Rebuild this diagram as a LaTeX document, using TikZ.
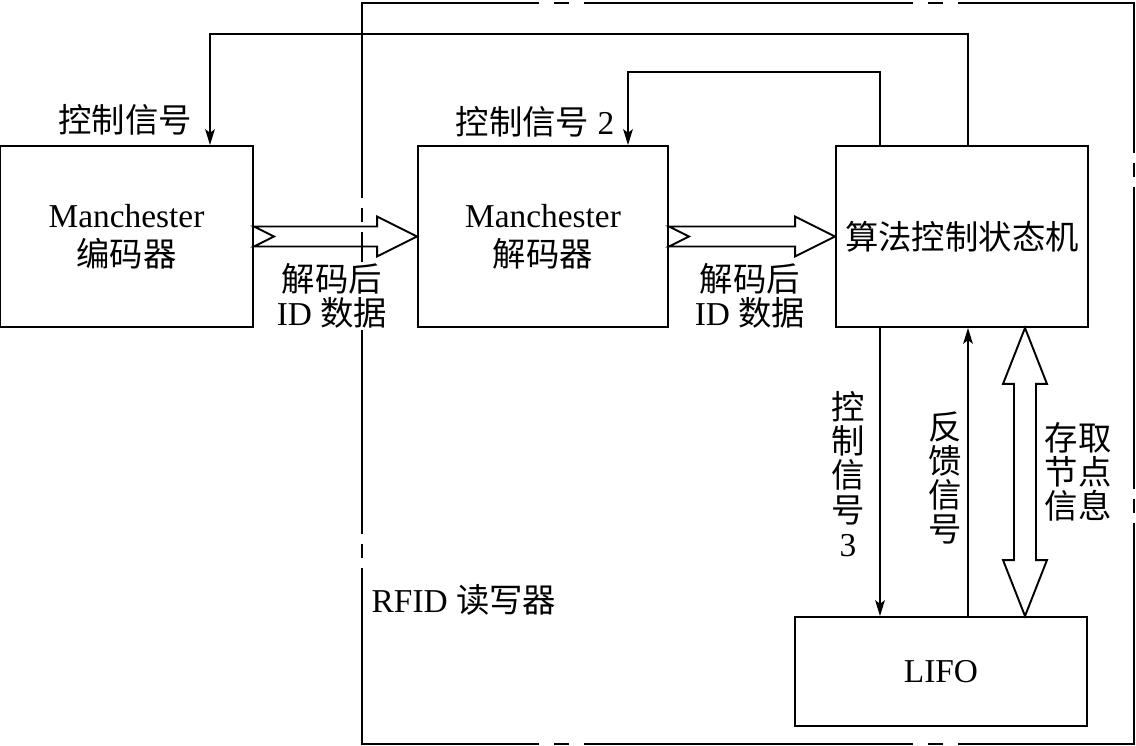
\documentclass[tikz,border=0pt]{standalone}
\usepackage{fontspec}
\setmainfont{Liberation Serif}
\newfontfamily\cjk{Noto Sans CJK SC}
\usetikzlibrary{positioning, arrows.meta, calc}

\begin{document}
\begin{tikzpicture}[
    x=0.02cm, y=-0.02cm,
    font=\fontsize{19}{22}\selectfont,
    block/.style={rectangle, draw, line width=1.1pt, align=center},
    sig/.style={-{Stealth[length=9pt, width=5.5pt, inset=2pt]}, line width=0.9pt},
    fat/.style={draw, line width=1.1pt, fill=white, line join=miter},
    frame/.style={line width=1.3pt, line cap=rect, dash pattern=on 6.54cm off 0.34cm on 0.26cm off 0.34cm},
    vframe/.style={line width=1.3pt, line cap=rect, dash pattern=on 6cm off 0.24cm on 0.24cm off 0.24cm},
    txt/.style={align=center, fill=white, inner sep=1pt, font=\fontsize{19}{19.5}\selectfont},
    vlabel/.style={align=center, font=\cjk\fontsize{19}{19.5}\selectfont}
]
    \useasboundingbox (0,0) rectangle (1136,746);

    % Blocks
    \node[block, minimum width=5.06cm, minimum height=3.62cm] (enc) at (126.5,236.5) {Manchester\\{\cjk 编码器}};
    \node[block, minimum width=5cm, minimum height=3.62cm] (dec) at (543,236.5) {Manchester\\{\cjk 解码器}};
    \node[block, minimum width=5.04cm, minimum height=3.62cm] (alg) at (962,236.5) {\cjk 算法控制状态机};
    \node[block, minimum width=5.84cm, minimum height=2.18cm] (lifo) at (941,671.5) {\raisebox{-4pt}{LIFO}};

    % Hollow data arrows
    \draw[fat] ($(enc.east)+(0,-10)$) -- ($(dec.west)+(-40,-10)$) -- ($(dec.west)+(-40,-20)$) -- (dec.west)
        -- ($(dec.west)+(-40,20)$) -- ($(dec.west)+(-40,10)$) -- ($(enc.east)+(0,10)$) -- ($(enc.east)+(20,0)$) -- cycle;
    \draw[fat] ($(dec.east)+(0,-10)$) -- ($(alg.west)+(-40,-10)$) -- ($(alg.west)+(-40,-20)$) -- (alg.west)
        -- ($(alg.west)+(-40,20)$) -- ($(alg.west)+(-40,10)$) -- ($(dec.east)+(0,10)$) -- ($(dec.east)+(20,0)$) -- cycle;

    % Double hollow arrow
    \coordinate (stT) at ($(alg.south)+(63,0)$);
    \coordinate (stB) at (stT |- lifo.north);
    \draw[fat] (stT) -- ++(-22,56) -- ++(11,0) -- ($(stB)+(-11,-56)$) -- ++(-11,0) -- (stB)
        -- ++(22,-56) -- ++(-11,0) -- ($(stT)+(11,56)$) -- ++(11,0) -- cycle;

    % Control lines
    \draw[sig] ($(alg.north)+(6,0)$) -- ++(0,-111) -| ($(enc.north)+(83.5,0)$);
    \draw[sig] ($(alg.north)+(-82,0)$) -- ++(0,-73) -| ($(dec.north)+(85,0)$);
    \coordinate (c3) at ($(alg.south)+(-82,0)$);
    \coordinate (fb) at ($(alg.south)+(6,0)$);
    \draw[sig] (c3) -- (c3 |- lifo.north);
    \draw[sig] (fb |- lifo.north) -- (fb);

    % Reader frame
    \draw[frame, dash phase=3.02cm] (362,3) -- (1134,3);
    \draw[frame, dash phase=3.02cm] (362,744) -- (1134,744);
    \draw[vframe, dash phase=2.12cm] (362,3) -- (362,744);
    \draw[vframe, dash phase=3.02cm] (1134,3) -- (1134,744);

    % Labels
    \node (ctl1) at (125,120) {\cjk 控制信号};
    \node (ctl2) at (535,122) {{\cjk 控制信号} 2};
    \node[txt] (idA) at (332,296) {{\cjk 解码后}\\ID {\cjk 数据}};
    \node[txt] (idB) at (750,296) {{\cjk 解码后}\\ID {\cjk 数据}};
    \node[vlabel] (ctl3) at (848,474) {控\\制\\信\\号\\{\rmfamily 3}};
    \node[vlabel] (fbk) at (945,478) {反\\馈\\信\\号};
    \node[vlabel] (acc) at (1078,472) {存取\\节点\\信息};
    \node (rfid) at (464,600) {RFID {\cjk 读写器}};
\end{tikzpicture}
\end{document}
